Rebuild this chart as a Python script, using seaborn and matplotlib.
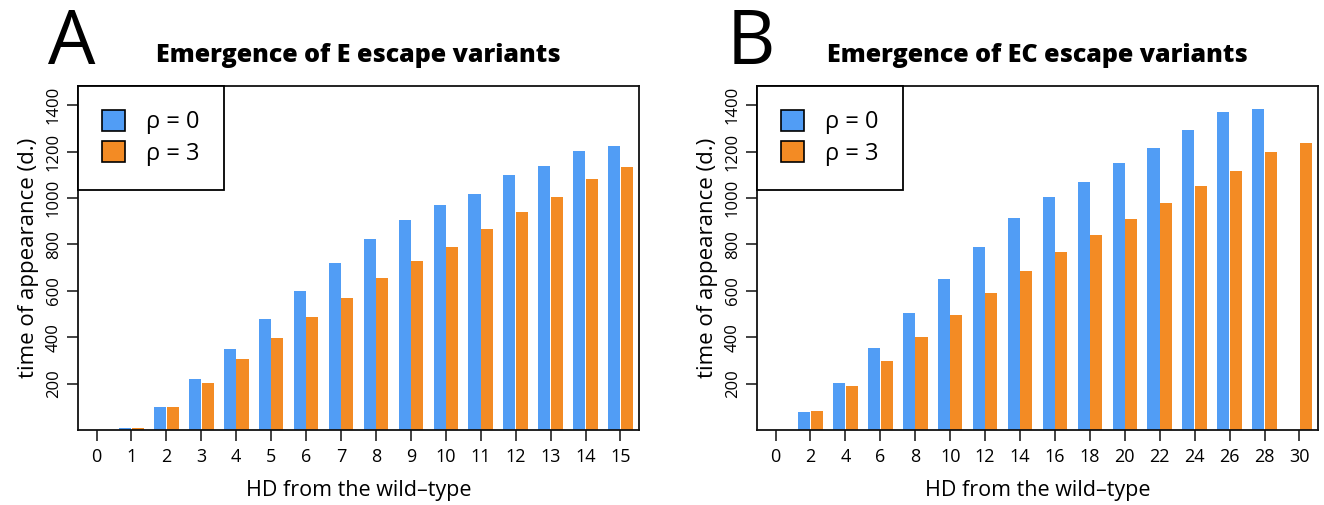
import pandas as pd
import matplotlib
matplotlib.use("Agg")
import matplotlib.pyplot as plt
from matplotlib.patches import Patch
import seaborn as sns

# values (days)
hd_a = list(range(0, 16))
rho0_a = [0, 8, 100, 221, 348, 478, 598, 719, 824, 904, 972, 1019, 1100, 1140, 1202, 1223]
rho3_a = [0, 8, 100, 204, 305, 396, 485, 568, 656, 728, 788, 867, 941, 1006, 1081, 1133]

hd_b = list(range(0, 31, 2))
rho0_b = [0, 79, 204, 354, 503, 653, 791, 916, 1005, 1067, 1150, 1215, 1295, 1373, 1383, 0]
rho3_b = [0, 81, 190, 298, 400, 497, 590, 684, 766, 842, 909, 978, 1054, 1118, 1199, 1239]

rho_labels = ["\u03c1 = 0", "\u03c1 = 3"]
titles = ["Emergence of E escape variants", "Emergence of EC escape variants"]
panel_letters = ["A", "B"]
y_ticks = [200, 400, 600, 800, 1000, 1200, 1400]

blue = "#519DF5"
orange = "#F38B24"

sns.set_style("ticks")
plt.rcParams["font.family"] = ["Open Sans", "DejaVu Sans"]
plt.rcParams["text.color"] = "black"
plt.rcParams["axes.labelcolor"] = "black"
plt.rcParams["xtick.color"] = "black"
plt.rcParams["ytick.color"] = "black"


def make_frame(hd, r0, r3):
    df = pd.DataFrame({
        "hd": hd * 2,
        "time": r0 + r3,
        "rho": [rho_labels[0]] * len(hd) + [rho_labels[1]] * len(hd),
    })
    return df


fig = plt.figure(figsize=(13.24, 5.05), dpi=100)
W, H = 1324, 505
boxes = [(78, 639), (757, 1318)]
top_px, bot_px = 86, 430

data = [(hd_a, rho0_a, rho3_a), (hd_b, rho0_b, rho3_b)]

for i, ((hd, r0, r3), (x0, x1)) in enumerate(zip(data, boxes)):
    ax = fig.add_axes([x0 / W, (H - bot_px) / H, (x1 - x0) / W, (bot_px - top_px) / H])
    df = make_frame(hd, r0, r3)
    sns.barplot(
        data=df, x="hd", y="time", hue="rho", order=hd,
        hue_order=rho_labels, palette=[blue, orange], saturation=1,
        width=0.72, gap=0.04, legend=False, ax=ax,
        edgecolor="none", linewidth=0,
    )
    ax.set_xlim(-0.53, len(hd) - 0.47)
    ax.set_ylim(0, 1483)
    ax.set_yticks(y_ticks)
    ax.set_yticklabels([str(t) for t in y_ticks], rotation=90, va="center", fontsize=12)
    ax.set_xticks(range(len(hd)))
    ax.set_xticklabels([str(h) for h in hd], fontsize=13)
    ax.tick_params(axis="both", direction="out", length=8, width=1.2, color="#222222")
    ax.tick_params(axis="x", pad=5)
    for sp in ax.spines.values():
        sp.set_visible(True)
        sp.set_linewidth(1.3)
        sp.set_color("#111111")
    ax.set_xlabel("HD from the wild\u2013type", fontsize=15.5, labelpad=10)
    ax.set_ylabel("time of appearance (d.)", fontsize=16, labelpad=5)

    handles = [Patch(facecolor=blue, edgecolor="black", linewidth=1.2),
               Patch(facecolor=orange, edgecolor="black", linewidth=1.2)]
    leg = ax.legend(handles, rho_labels, loc="upper left", bbox_to_anchor=(0, 1),
                    borderaxespad=0, fancybox=False, framealpha=1, edgecolor="black",
                    fontsize=17, handlelength=1.0, handleheight=1.0,
                    borderpad=1.0, labelspacing=0.3, handletextpad=0.9)
    leg.get_frame().set_linewidth(1.3)

    cx = (x0 + x1) / 2 / W
    fig.text(cx, (H - 55) / H, titles[i], ha="center", va="center",
             fontsize=18, fontweight="heavy")
    fig.text((x0 - 30) / W, (H - 44) / H, panel_letters[i], ha="left", va="center",
             fontsize=54)

fig.savefig("out.png", dpi=100)
plt.close(fig)
